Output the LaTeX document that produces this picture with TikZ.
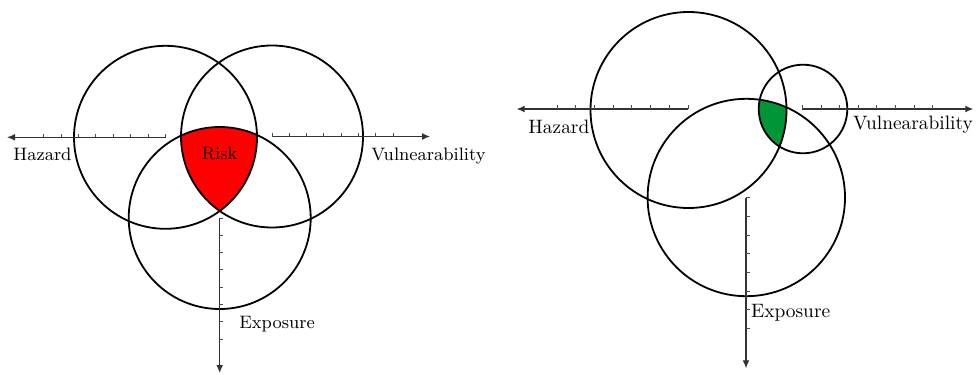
\documentclass[tikz,border=0pt]{standalone}
\usetikzlibrary{arrows.meta,calc}
\definecolor{riskred}{RGB}{255,0,0}
\definecolor{riskgreen}{RGB}{0,150,55}
\begin{document}
\begin{tikzpicture}[x=0.5pt,y=-0.5pt,
  ring/.style={draw=black,line width=0.9pt},
  axisline/.style={draw=black!80,line width=0.55pt,-{Latex[length=4pt,width=3.4pt]}},
  tickmark/.style={draw=black!70,line width=0.45pt},
  lbl/.style={inner sep=0pt,font=\fontsize{9}{11}\selectfont},
  lblb/.style={inner sep=0pt,font=\fontsize{9.7}{12}\selectfont}]
\useasboundingbox (0,0) rectangle (977,374);
% ---------------- left diagram
\coordinate (H1) at (165.5,137.3);
\coordinate (V1) at (272,136.5);
\coordinate (E1) at (219.7,218);
\coordinate (H1end) at (7,137.3);
\coordinate (V1end) at (430,136.5);
\coordinate (E1end) at (219.7,373);
\begin{scope}
  \clip (H1) circle (91.5);
  \clip (V1) circle (91);
  \fill[riskred] (E1) circle (91);
\end{scope}
\draw[ring] (H1) circle (91.5);
\draw[ring] (V1) circle (91);
\draw[ring] (E1) circle (91);
\draw[axisline] (H1) -- (H1end);
\draw[axisline] (V1) -- (V1end);
\draw[axisline] (E1) -- (E1end);
\foreach \k in {0,...,7}{
  \draw[tickmark] ($(H1)+(-17.4*\k,0)$) -- ++(0,-3.5);
  \draw[tickmark] ($(V1)+(17.3*\k,0)$) -- ++(0,-3.5);
  \draw[tickmark] ($(E1)+(0,17.3*\k)$) -- ++(3.5,0);
}
\node[lbl,anchor=base west] (hz1) at (13,160) {Hazard};
\node[lbl,anchor=base west] (vu1) at (371,160) {Vulnearability};
\node[lbl,anchor=base west] (ex1) at (239,328) {Exposure};
\node[lbl,anchor=base] (rk1) at (219.5,159) {Risk};
% ---------------- right diagram
\coordinate (H2) at (688.5,110);
\coordinate (V2) at (803,109);
\coordinate (E2) at (746.3,197.5);
\coordinate (H2end) at (516.7,109);
\coordinate (V2end) at (973.3,109);
\coordinate (E2end) at (746,368.3);
\begin{scope}
  \clip (H2) circle (98);
  \clip (V2) circle (44.3);
  \fill[riskgreen] (E2) circle (98.7);
\end{scope}
\draw[ring] (H2) circle (98);
\draw[ring] (V2) circle (44.3);
\draw[ring] (E2) circle (98.7);
\coordinate (H2a) at (688,109);
\coordinate (V2a) at (802.3,109);
\coordinate (E2a) at (746,197.7);
\draw[axisline] (H2a) -- (H2end);
\draw[axisline] (V2a) -- (V2end);
\draw[axisline] (E2a) -- (E2end);
\foreach \k in {0,...,7}{
  \draw[tickmark] ($(H2a)+(-18.7*\k,0)$) -- ++(0,-3.8);
  \draw[tickmark] ($(V2a)+(18.65*\k,0)$) -- ++(0,-3.8);
  \draw[tickmark] ($(E2a)+(0,18.65*\k)$) -- ++(3.8,0);
}
\node[lblb,anchor=base west] (hz2) at (528,133.3) {Hazard};
\node[lblb,anchor=base west] (vu2) at (852.7,129) {Vulnearability};
\node[lblb,anchor=base west] (ex2) at (750.7,317.3) {Exposure};
\end{tikzpicture}
\end{document}
